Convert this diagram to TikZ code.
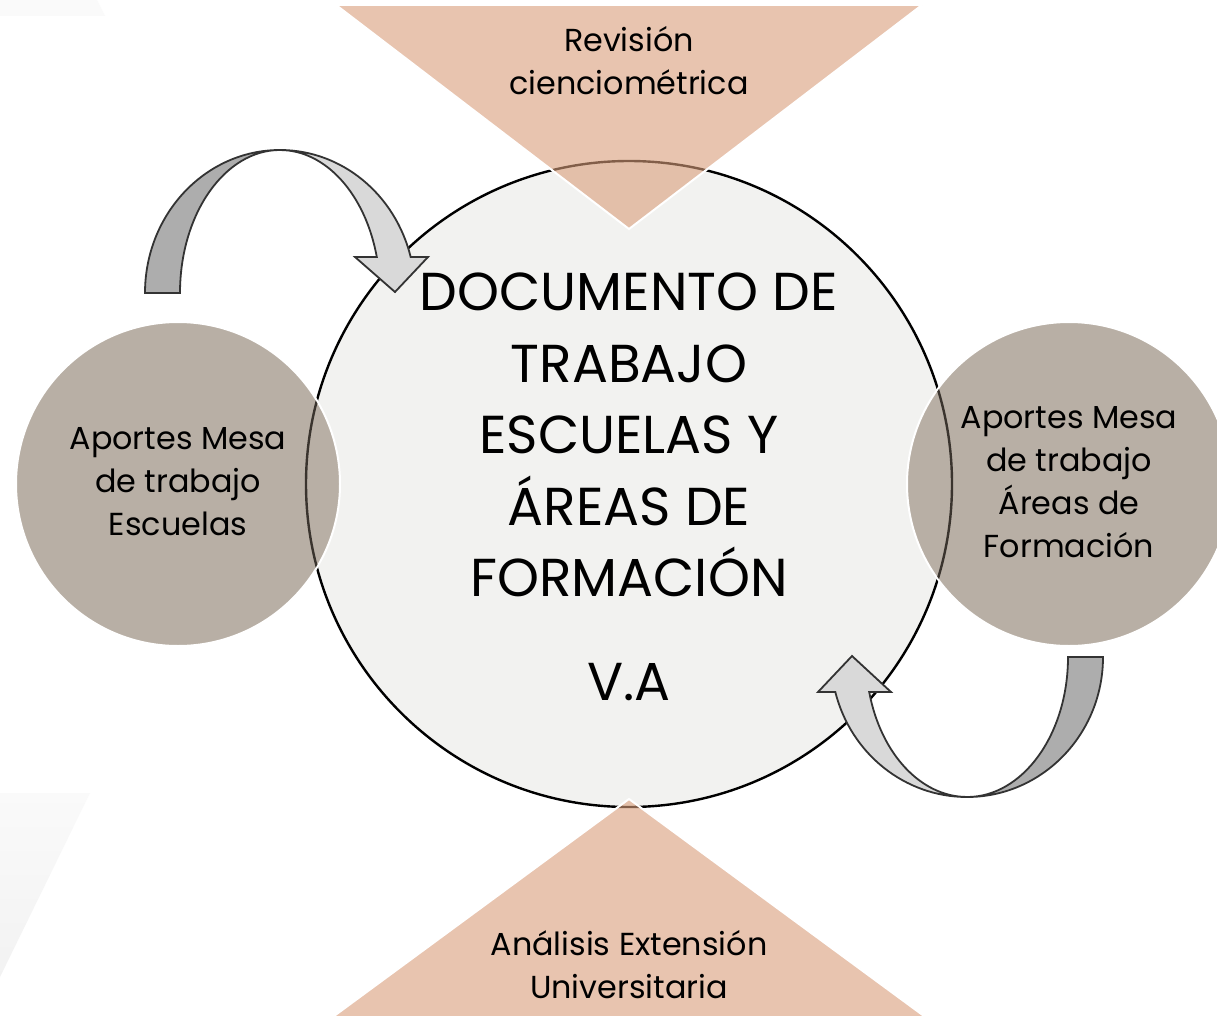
\documentclass[tikz,border=0pt]{standalone}
\usepackage{fontspec}
\setmainfont{Poppins}
\definecolor{circfill}{HTML}{F2F2F0}
\definecolor{sidefill}{HTML}{B8AFA5}
\definecolor{trifill}{HTML}{D99E7A}
\definecolor{arrdark}{HTML}{ADADAD}
\definecolor{arrlight}{HTML}{D9D9D9}
\definecolor{arrline}{HTML}{333333}
\definecolor{circline}{HTML}{3A342E}
\begin{document}
\begin{tikzpicture}[x=1pt,y=-1pt,
  maincirc/.style={circle, draw=black, line width=2.4pt, fill=circfill, minimum size=646pt, inner sep=0pt},
  sidecirc/.style={circle, draw=white, line width=2pt, fill=sidefill, minimum size=324pt, inner sep=0pt},
  tri/.style={fill=trifill, fill opacity=0.6, draw=white, line width=2pt},
  arrowshape/.style={draw=arrline, line width=1.8pt, line join=miter},
  smalltext/.style={font=\fontsize{31.8}{43}\selectfont, align=center, text=black, inner sep=0pt},
  bigtext/.style={font=\fontsize{53.4}{71.5}\selectfont, align=center, text=black, inner sep=0pt}]
\useasboundingbox (0,0) rectangle (1217,1016);
\fill[white] (0,0) rectangle (1217,1016);
% faint background shapes
\shade[top color=black!2, bottom color=black!5] (0,793) -- (90,793) -- (0,977) -- cycle;
\fill[black!2] (0,0) -- (97,0) -- (105,16) -- (0,16) -- cycle;
% main circle
\node[maincirc] (main) at (629,484) {};
% triangles
\draw[tri] (336,5) -- (922,5) -- (629,229) -- cycle;
\draw[tri] (315,1030) -- (943,1030) -- (629,799) -- cycle;
% side circles
\node[sidecirc] (left) at (178,484) {};
\node[sidecirc] (right) at (1069,484) {};
\begin{scope}
  \clip (178,484) circle[radius=161pt];
  \draw[circline, line width=2.4pt] (main.center) circle[radius=323pt];
\end{scope}
\begin{scope}
  \clip (1069,484) circle[radius=161pt];
  \draw[circline, line width=2.4pt] (main.center) circle[radius=323pt];
\end{scope}
% top curved arrow
\draw[arrowshape, fill=arrdark] (145,293)
  arc[start angle=180, end angle=90, x radius=135pt, y radius=143pt]
  arc[start angle=90, end angle=180, x radius=100pt, y radius=143pt] -- cycle;
\draw[arrowshape, fill=arrlight] (280,150)
  arc[start angle=90, end angle=14.6, x radius=135pt, y radius=143pt]
  -- (428,257) -- (395,292) -- (355,257) -- (376.8,257)
  arc[start angle=14.6, end angle=90, x radius=100pt, y radius=143pt] -- cycle;
% bottom curved arrow
\draw[arrowshape, fill=arrdark] (1103,657)
  arc[start angle=0, end angle=-90, x radius=136pt, y radius=140pt]
  arc[start angle=-90, end angle=0, x radius=101pt, y radius=140pt] -- cycle;
\draw[arrowshape, fill=arrlight] (967,797)
  arc[start angle=-90, end angle=-165.5, x radius=136pt, y radius=140pt]
  -- (818,692) -- (852,656) -- (891,692) -- (869.2,692)
  arc[start angle=-165.5, end angle=-90, x radius=101pt, y radius=140pt] -- cycle;
% texts
\node[bigtext] (title) at (629,487) {DOCUMENTO DE\\TRABAJO\\ESCUELAS Y\\ÁREAS DE\\FORMACIÓN\\[32pt]V.A};
\node[smalltext] (lefttext) at (178,482) {Aportes Mesa\\de trabajo\\Escuelas};
\node[smalltext] (righttext) at (1069,482) {Aportes Mesa\\de trabajo\\Áreas de\\Formación};
\node[smalltext] (toptext) at (629,61) {Revisión\\cienciométrica};
\node[smalltext] (bottext) at (629,965) {Análisis Extensión\\Universitaria};
\end{tikzpicture}
\end{document}
